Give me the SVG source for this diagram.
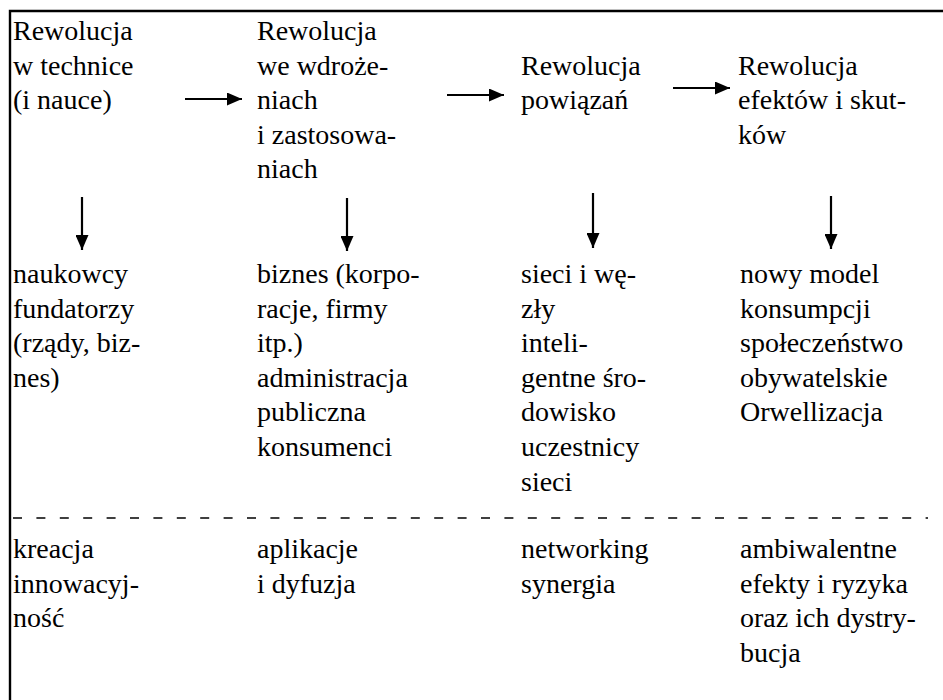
<svg xmlns="http://www.w3.org/2000/svg" width="943" height="700" viewBox="0 0 943 700">
<defs>
<style>
text{font-family:'Liberation Serif','Times New Roman',serif;font-size:28px;fill:#000}
.frame{stroke:#000;stroke-width:2.4;fill:none}
.arr{stroke:#000;stroke-width:2.2;fill:none}
.dash{stroke:#000;stroke-width:1.7;stroke-dasharray:9 14.4}
</style>
<marker id="ah" viewBox="0 0 15 13" refX="15" refY="6.5" markerWidth="15" markerHeight="13" markerUnits="userSpaceOnUse" orient="auto">
<path d="M0,0 L15,6.5 L0,13 Z" fill="#000"/>
</marker>
</defs>
<rect width="943" height="700" fill="#fff"/>
<path class="frame" d="M10,700 V11 H943"/>
<g id="n-tech"><text x="13" y="40">Rewolucja</text><text x="13" y="74.6">w technice</text><text x="13" y="109.2">(i nauce)</text></g>
<g id="n-wdroz"><text x="257" y="40">Rewolucja</text><text x="257" y="74.6">we wdroże-</text><text x="257" y="109.2">niach</text><text x="257" y="143.8">i zastosowa-</text><text x="257" y="178.4">niach</text></g>
<g id="n-powiaz"><text x="521" y="74.6">Rewolucja</text><text x="521" y="109.2">powiązań</text></g>
<g id="n-efekt"><text x="738" y="74.6">Rewolucja</text><text x="738" y="109.2">efektów i skut-</text><text x="738" y="143.8">ków</text></g>
<g id="n-akt1"><text x="13" y="283">naukowcy</text><text x="13" y="317.6">fundatorzy</text><text x="13" y="352.2">(rządy, biz-</text><text x="13" y="386.8">nes)</text></g>
<g id="n-akt2"><text x="257" y="283">biznes (korpo-</text><text x="257" y="317.6">racje, firmy</text><text x="257" y="352.2">itp.)</text><text x="257" y="386.8">administracja</text><text x="257" y="421.4">publiczna</text><text x="257" y="456">konsumenci</text></g>
<g id="n-akt3"><text x="521" y="283">sieci i wę-</text><text x="521" y="317.6">zły</text><text x="521" y="352.2">inteli-</text><text x="521" y="386.8">gentne śro-</text><text x="521" y="421.4">dowisko</text><text x="521" y="456">uczestnicy</text><text x="521" y="490.6">sieci</text></g>
<g id="n-akt4"><text x="740" y="283">nowy model</text><text x="740" y="317.6">konsumpcji</text><text x="740" y="352.2">społeczeństwo</text><text x="740" y="386.8">obywatelskie</text><text x="740" y="421.4">Orwellizacja</text></g>
<g id="n-ef1"><text x="13" y="558">kreacja</text><text x="13" y="592.6">innowacyj-</text><text x="13" y="627.2">ność</text></g>
<g id="n-ef2"><text x="257" y="558">aplikacje</text><text x="257" y="592.6">i dyfuzja</text></g>
<g id="n-ef3"><text x="521" y="558">networking</text><text x="521" y="592.6">synergia</text></g>
<g id="n-ef4"><text x="740" y="558">ambiwalentne</text><text x="740" y="592.6">efekty i ryzyka</text><text x="740" y="627.2">oraz ich dystry-</text><text x="740" y="661.8">bucja</text></g>
<line class="dash" x1="13" y1="518" x2="928" y2="518"/>
<g id="connectors">
<line class="arr" x1="185" y1="99" x2="242" y2="99" marker-end="url(#ah)"/>
<line class="arr" x1="447" y1="95" x2="504" y2="95" marker-end="url(#ah)"/>
<line class="arr" x1="673" y1="88" x2="730" y2="88" marker-end="url(#ah)"/>
<line class="arr" x1="82" y1="197" x2="82" y2="250" marker-end="url(#ah)"/>
<line class="arr" x1="347" y1="198" x2="347" y2="251" marker-end="url(#ah)"/>
<line class="arr" x1="593" y1="193" x2="593" y2="248" marker-end="url(#ah)"/>
<line class="arr" x1="831" y1="196" x2="831" y2="249" marker-end="url(#ah)"/>
</g>
</svg>
